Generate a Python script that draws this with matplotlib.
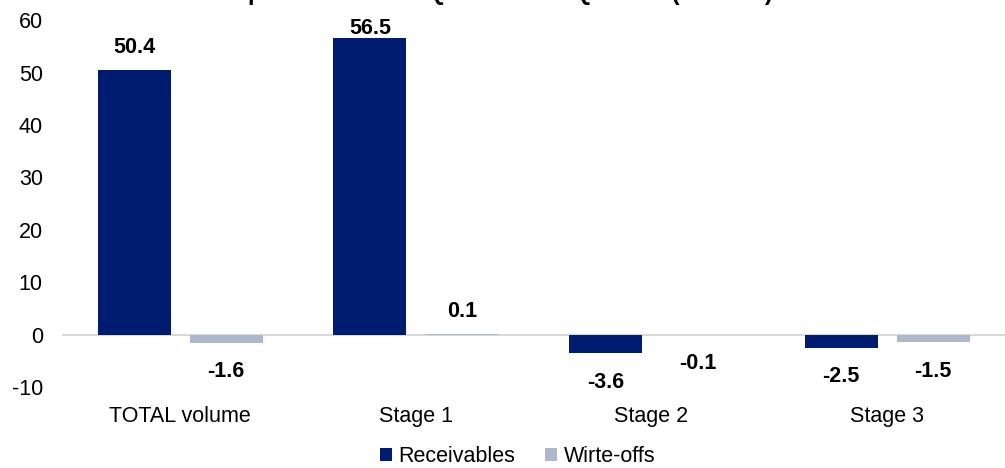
import numpy as np
import matplotlib.pyplot as plt

plt.rcParams['font.family'] = ['Liberation Sans', 'DejaVu Sans']
plt.rcParams['axes.unicode_minus'] = False

CATEGORIES = ['TOTAL volume', 'Stage 1', 'Stage 2', 'Stage 3']
RECEIVABLES = [50.4, 56.5, -3.6, -2.5]
WRITE_OFFS = [-1.6, 0.1, -0.1, -1.5]
SERIES_NAMES = ['Receivables', 'Wirte-offs']
TITLE = 'period between Q4 2022 and Q2 2023 (EUR bn)'

NAVY = '#001C71'
LIGHT = '#ADB9CB'
FS = 15.5
LABEL_CEILING = 54.0  # labels of tall bars are pushed down to stay inside the plot

fig = plt.figure(figsize=(10.05, 4.68), dpi=100)
ax = fig.add_axes([0.062, 0.173, 0.938, 0.784])

x = np.arange(len(CATEGORIES))
width = 0.31
gap = 0.08
off = (width + gap) / 2

bars_r = ax.bar(x - off, RECEIVABLES, width, color=NAVY, label=SERIES_NAMES[0])
bars_w = ax.bar(x + off, WRITE_OFFS, width, color=LIGHT, label=SERIES_NAMES[1])

# value labels, above positives and below negatives
for bars, vals in ((bars_r, RECEIVABLES), (bars_w, WRITE_OFFS)):
    for b, v in zip(bars, vals):
        cx = b.get_x() + b.get_width() / 2
        if v >= 0:
            ax.annotate(f'{v:.1f}', (cx, min(v, LABEL_CEILING)), xytext=(0, 9),
                        textcoords='offset points', ha='center', va='bottom',
                        fontsize=FS, fontweight='bold')
        else:
            ax.annotate(f'{v:.1f}', (cx, v), xytext=(0, -13), textcoords='offset points',
                        ha='center', va='top', fontsize=FS, fontweight='bold')

ax.set_xlim(-0.5, len(CATEGORIES) - 0.5)
ax.set_ylim(-10, 60)
ax.set_yticks(np.arange(-10, 61, 10))
ax.axhline(0, color='#D9D9D9', lw=1.5, zorder=0)
for s in ax.spines.values():
    s.set_visible(False)
ax.tick_params(axis='both', length=0, labelsize=FS)
ax.tick_params(axis='y', pad=14)
ax.tick_params(axis='x', pad=14)
ax.set_xticks(x)
ax.set_xticklabels(CATEGORIES)

ax.legend(loc='center', bbox_to_anchor=(0.483, -0.19), ncol=2, frameon=False,
          fontsize=FS, handlelength=0.55, handleheight=0.55, handletextpad=0.3,
          columnspacing=1.4, borderaxespad=0, borderpad=0)

# title sits mostly above the top edge, as in the source image
fig.text(0.508, 1.0, TITLE, ha='center', va='baseline',
         fontsize=17, fontweight='bold')

fig.savefig('out.png', dpi=100)
